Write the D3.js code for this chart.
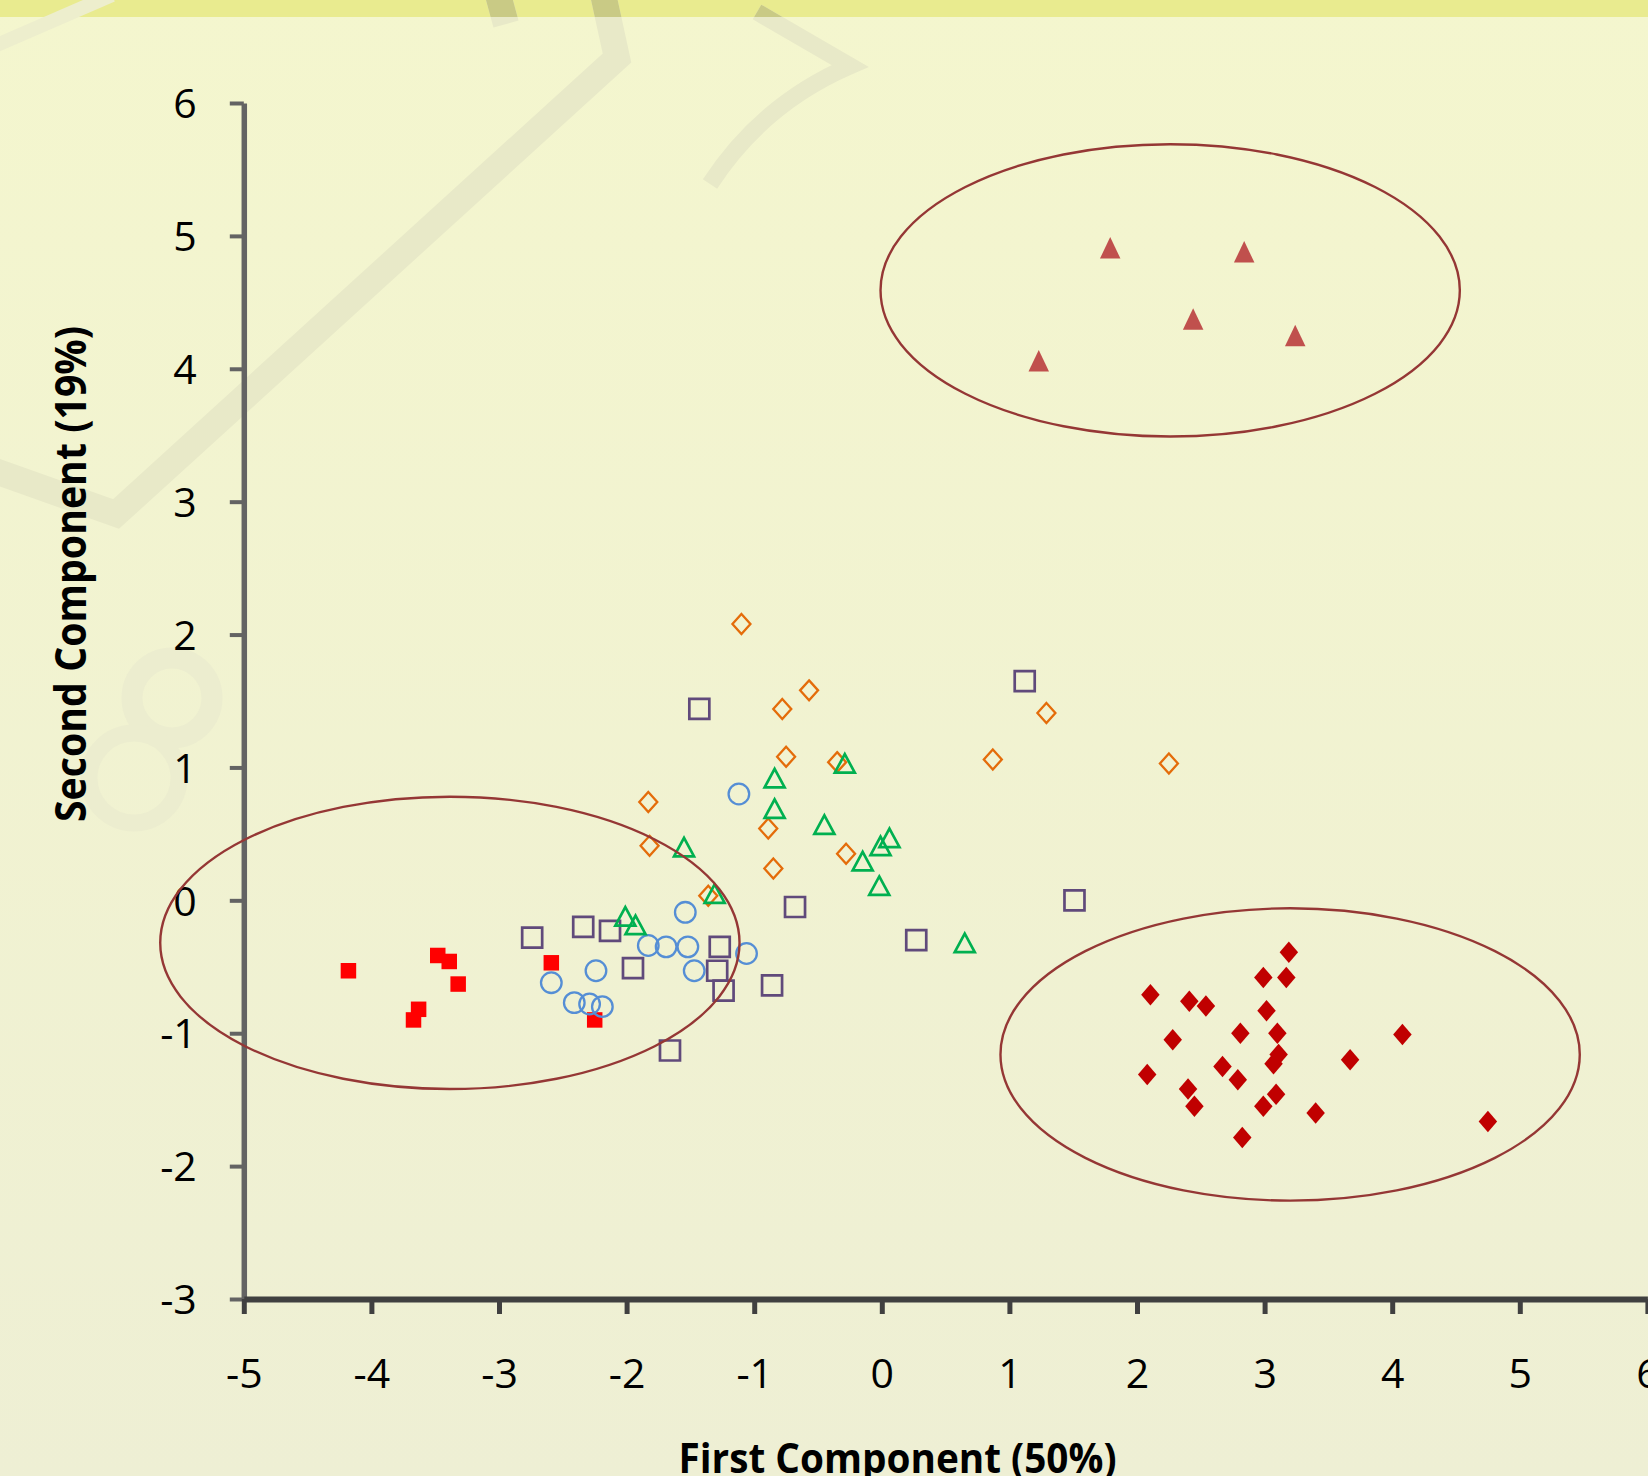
<!DOCTYPE html>
<html><head><meta charset="utf-8">
<script src="https://cdn.jsdelivr.net/npm/d3@7"></script>
<style>html,body{margin:0;padding:0;background:#f2f4cf;overflow:hidden}</style>
</head><body><svg id="chart" width="1648" height="1476"></svg>
<script>
// ---------------- DATA ----------------
const xTicks = [-5, -4, -3, -2, -1, 0, 1, 2, 3, 4, 5, 6];
const yTicks = [-3, -2, -1, 0, 1, 2, 3, 4, 5, 6];
const xTitle = "First Component (50%)";
const yTitle = "Second Component (19%)";

const redSquares = [[-4.18,-0.53],[-3.48,-0.415],[-3.39,-0.46],[-3.32,-0.63],[-3.63,-0.82],[-3.67,-0.90],[-2.59,-0.47],[-2.25,-0.90]];
const blueCircles = [[-1.12,0.80],[-1.54,-0.09],[-1.83,-0.34],[-1.69,-0.35],[-1.52,-0.35],[-1.06,-0.40],[-1.47,-0.53],[-2.24,-0.53],[-2.59,-0.62],[-2.41,-0.77],[-2.29,-0.78],[-2.19,-0.80]];
const purpleSquares = [[-1.43,1.44],[1.12,1.65],[1.51,0.00],[0.27,-0.30],[-0.68,-0.05],[-2.74,-0.28],[-2.34,-0.20],[-2.13,-0.23],[-1.95,-0.51],[-1.27,-0.35],[-1.29,-0.53],[-1.24,-0.68],[-0.86,-0.64],[-1.66,-1.13]];
const orangeDiamonds = [[-1.10,2.08],[-0.57,1.58],[-0.78,1.44],[-0.75,1.08],[-0.35,1.04],[0.87,1.06],[1.29,1.41],[2.25,1.03],[-1.83,0.74],[-1.82,0.41],[-0.89,0.54],[-0.85,0.24],[-0.28,0.35],[-1.36,0.035]];
const greenTriangles = [[-0.84,0.92],[-0.84,0.69],[-0.29,1.03],[-0.45,0.57],[0.06,0.47],[-0.01,0.41],[-0.15,0.295],[-0.02,0.11],[0.65,-0.32],[-1.55,0.40],[-1.31,0.05],[-2.01,-0.12],[-1.93,-0.185]];
const darkRedDiamonds = [[3.19,-0.39],[2.99,-0.58],[3.17,-0.58],[2.105,-0.71],[2.41,-0.76],[2.54,-0.795],[3.015,-0.83],[2.28,-1.05],[2.81,-1.00],[3.10,-1.00],[4.08,-1.01],[3.11,-1.16],[3.07,-1.23],[3.67,-1.20],[2.08,-1.31],[2.67,-1.25],[2.79,-1.35],[2.40,-1.42],[2.45,-1.55],[2.99,-1.55],[3.09,-1.46],[3.40,-1.60],[2.825,-1.785],[4.75,-1.665]];
const topTriangles = [[1.79,4.91],[2.84,4.88],[2.44,4.375],[3.24,4.25],[1.23,4.06]];

// cluster ellipses (data units)
const ellipseCx = [2.26, -3.385, 3.20];
const ellipseCy = [4.59, -0.32, -1.16];
const ellipseRx = [2.27, 2.27, 2.27];
const ellipseRy = [1.10, 1.10, 1.10];

// ---------------- LAYOUT ----------------
const W = 1648, H = 1476;
const svg = d3.select("#chart");
const x = d3.scaleLinear().domain([-5, 6]).range([243.8, 1647.4]);
const y = d3.scaleLinear().domain([-3, 6]).range([1299, 103]);
const FONT = "'Open Sans', 'Liberation Sans', Arial, sans-serif";

// background
const defs = svg.append("defs");
const grad = defs.append("linearGradient").attr("id","bg").attr("x1",0).attr("y1",0).attr("x2",0).attr("y2",1);
grad.append("stop").attr("offset","0%").attr("stop-color","#f4f6ce");
grad.append("stop").attr("offset","100%").attr("stop-color","#eeefd4");
svg.append("rect").attr("width",W).attr("height",H).attr("fill","url(#bg)");
svg.append("rect").attr("width",W).attr("height",17).attr("fill","#e9eb8f");

// faint watermark decoration
defs.append("clipPath").attr("id","band").append("rect").attr("width",W).attr("height",17);
function watermark(g, col){
  g.append("path").attr("d","M600,-20 L617,58 L116,514 L-30,462")
    .attr("fill","none").attr("stroke",col).attr("stroke-width",26).attr("stroke-linejoin","miter");
  g.append("path").attr("d","M494,-20 L506,24")
    .attr("fill","none").attr("stroke",col).attr("stroke-width",26);
  g.append("path").attr("d","M757,12 L850,66 Q762,104 710,184")
    .attr("fill","none").attr("stroke",col).attr("stroke-width",17);
}
const wm = svg.append("g");
watermark(wm, "#e8e9c8");
wm.append("path").attr("d","M-10,48 L112,-5").attr("fill","none").attr("stroke","#edeecd").attr("stroke-width",14);
wm.append("circle").attr("cx",172).attr("cy",698).attr("r",40).attr("fill","none").attr("stroke","#ecedcf").attr("stroke-width",21);
wm.append("circle").attr("cx",134).attr("cy",778).attr("r",45).attr("fill","none").attr("stroke","#ecedcf").attr("stroke-width",17);
const wm2 = svg.append("g").attr("clip-path","url(#band)");
watermark(wm2, "#c9ca85");

// axes
const yAxis = d3.axisLeft(y).tickValues(yTicks).tickSize(14).tickSizeOuter(0).tickFormat(d => String(d));
const gy = svg.append("g").attr("transform",`translate(${x(-5)},0)`).call(yAxis);
gy.select(".domain").attr("stroke","#636363").attr("stroke-width",5.5);
gy.selectAll(".tick line").attr("stroke","#636363").attr("stroke-width",4);
gy.selectAll(".tick text").attr("x",-47).attr("dy","0.36em").attr("text-anchor","end")
  .style("font-family",FONT).style("font-size","41px").attr("fill","#000");

const xAxis = d3.axisBottom(x).tickValues(xTicks).tickSize(15).tickSizeOuter(0).tickFormat(d => String(d));
const gx = svg.append("g").attr("transform",`translate(0,${y(-3)})`).call(xAxis);
gx.select(".domain").attr("stroke","#404040").attr("stroke-width",6);
gx.selectAll(".tick line").attr("stroke","#404040").attr("stroke-width",5);
gx.selectAll(".tick text").attr("y",74).attr("dy","0.36em")
  .style("font-family",FONT).style("font-size","41px").attr("fill","#000");

// titles
svg.append("text").attr("x",897.5).attr("y",1473).attr("text-anchor","middle")
  .style("font-family",FONT).style("font-weight","bold").style("font-size","41px")
  .attr("textLength",438).attr("lengthAdjust","spacingAndGlyphs").attr("fill","#000").text(xTitle);
svg.append("text").attr("transform","translate(86,574) rotate(-90)").attr("text-anchor","middle")
  .style("font-family",FONT).style("font-weight","bold").style("font-size","43px")
  .attr("textLength",496).attr("lengthAdjust","spacingAndGlyphs").attr("fill","#000").text(yTitle);

// marker shapes
const sq = s => `M${-s/2},${-s/2}h${s}v${s}h${-s}Z`;
const dia = (w,h) => `M0,${-h/2}L${w/2},0L0,${h/2}L${-w/2},0Z`;
const tri = (w,h) => `M0,${-h/2}L${w/2},${h/2}L${-w/2},${h/2}Z`;

function series(data, d, fill, stroke, sw){
  svg.append("g").selectAll("path").data(data).join("path")
    .attr("transform", p => `translate(${x(p[0])},${y(p[1])})`)
    .attr("d", d)
    .attr("fill", fill).attr("stroke", stroke).attr("stroke-width", sw)
    .attr("stroke-linejoin","miter");
}
series(redSquares, sq(15.5), "#ff0000", "none", 0);
svg.append("g").selectAll("circle").data(blueCircles).join("circle")
  .attr("cx", p => x(p[0])).attr("cy", p => y(p[1])).attr("r", 10.3)
  .attr("fill","none").attr("stroke","#558ed5").attr("stroke-width",2.3);
series(purpleSquares, sq(20), "none", "#604a7b", 2.7);
series(orangeDiamonds, dia(18,20), "none", "#e46c0a", 2.3);
series(greenTriangles, tri(20,18.5), "none", "#00b050", 2.7);
series(darkRedDiamonds, dia(18.5,21.5), "#c00000", "none", 0);
series(topTriangles, tri(20.5,21.5), "#c0504d", "none", 0);

// cluster ellipses
svg.append("g").selectAll("ellipse").data(ellipseCx.map((c,i)=>i)).join("ellipse")
  .attr("cx", i => x(ellipseCx[i])).attr("cy", i => y(ellipseCy[i]))
  .attr("rx", i => x(ellipseCx[i] + ellipseRx[i]) - x(ellipseCx[i]))
  .attr("ry", i => y(ellipseCy[i] - ellipseRy[i]) - y(ellipseCy[i]))
  .attr("fill","none").attr("stroke","#953735").attr("stroke-width",2.4);
</script>
</body></html>
